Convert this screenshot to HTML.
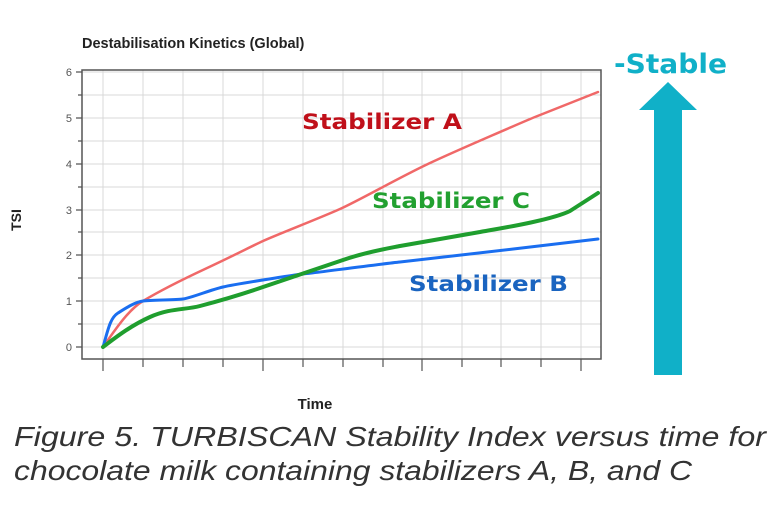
<!DOCTYPE html>
<html><head><meta charset="utf-8"><style>body{margin:0;background:#fff}svg{display:block}</style></head><body>
<svg width="780" height="512" xmlns="http://www.w3.org/2000/svg" font-family="Liberation Sans, sans-serif">
<rect width="780" height="512" fill="#fff"/>
<text x="82" y="48" font-size="14.5" font-weight="bold" fill="#222">Destabilisation Kinetics (Global)</text>
<g stroke="#d8d8d8" stroke-width="1">
<path d="M82 72H601M82 95H601M82 118H601M82 141H601M82 164H601M82 187H601M82 210H601M82 232H601M82 255H601M82 278H601M82 301H601M82 324H601M82 347H601"/>
<path d="M103 70V359M143 70V359M183 70V359M223 70V359M263 70V359M303 70V359M343 70V359M383 70V359M422 70V359M462 70V359M501 70V359M541 70V359M581 70V359"/>
</g>
<rect x="82" y="70" width="519" height="289" fill="none" stroke="#555" stroke-width="1.5"/>
<g stroke="#555" stroke-width="1.2">
<path d="M76 72H82M78 95H82M76 118H82M78 141H82M76 164H82M78 187H82M76 210H82M78 232H82M76 255H82M78 278H82M76 301H82M78 324H82M76 347H82"/>
<path d="M103 359V371M143 359V367M183 359V367M223 359V367M263 359V371M303 359V367M343 359V367M383 359V367M422 359V371M462 359V367M501 359V367M541 359V367M581 359V371"/>
</g>
<g font-size="11" fill="#555" text-anchor="end">
<text x="72" y="76">6</text><text x="72" y="122">5</text><text x="72" y="168">4</text><text x="72" y="214">3</text><text x="72" y="259">2</text><text x="72" y="305">1</text><text x="72" y="351">0</text>
</g>
<text transform="translate(21,220) rotate(-90)" font-size="14" font-weight="bold" fill="#222" text-anchor="middle">TSI</text>
<text x="315" y="409" font-size="15" font-weight="bold" fill="#222" text-anchor="middle">Time</text>
<g fill="none" stroke-linejoin="round" stroke-linecap="round">
<path stroke="#f06868" stroke-width="2.5" d="M103,347 C115,330 128,310 143,301 S175,283 205,269 S250,247 263,241 S320,218 340,209 S400,177 430,163 S530,119 535,117 L598,92"/>
<path stroke="#1a6ef0" stroke-width="3" d="M103,347 C108,330 110,318 118,313 S135,302 143,301 S175,300 183,299 S210,290 223,287 S300,274 303,274 S380,264 400,262 S540,246 598,239"/>
<path stroke="#1f9e2e" stroke-width="4" d="M103,347 C115,338 130,326 150,317 S185,310 200,306 S240,295 263,287 S320,268 343,260 S390,248 400,246 S470,234 480,232 S550,221 570,211 L598,193"/>
</g>
<g font-family="DejaVu Sans, sans-serif" font-weight="bold" font-size="21">
<text x="302" y="129" fill="#c0101a" textLength="160" lengthAdjust="spacingAndGlyphs">Stabilizer A</text>
<text x="372" y="208" fill="#22a030" textLength="158" lengthAdjust="spacingAndGlyphs">Stabilizer C</text>
<text x="409" y="291" fill="#1a64c0" textLength="159" lengthAdjust="spacingAndGlyphs">Stabilizer B</text>
<text x="614" y="73" font-size="27" fill="#10b0c8" textLength="113" lengthAdjust="spacingAndGlyphs">-Stable</text>
</g>
<polygon fill="#10b0c8" points="668,82 697,110 682,110 682,375 654,375 654,110 639,110"/>
<g font-style="italic" font-size="28" fill="#333">
<text x="14" y="446" textLength="752" lengthAdjust="spacingAndGlyphs">Figure 5. TURBISCAN Stability Index versus time for</text>
<text x="14" y="480" textLength="678" lengthAdjust="spacingAndGlyphs">chocolate milk containing stabilizers A, B, and C</text>
</g>
</svg>
</body></html>
